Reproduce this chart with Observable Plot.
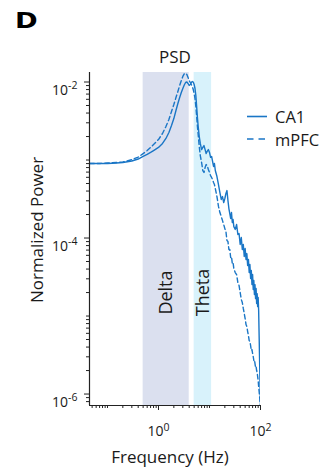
<!DOCTYPE html>
<html><head><meta charset="utf-8">
<script src="https://cdn.jsdelivr.net/npm/d3@7"></script>
<script src="https://cdn.jsdelivr.net/npm/@observablehq/plot@0.6"></script>
<style>html,body{margin:0;padding:0;background:#fff;} svg{display:block}</style>
</head><body><div id="chart"></div>
<script>
// Frequency (Hz)
const freq = [0.045,0.07,0.1,0.15,0.2,0.3,0.4,0.5,0.6,0.7,0.8,1.0,1.2,1.4,1.6,1.8,2.0,2.2,2.4,2.6,2.8,3.0,3.2,3.4,3.6,3.8,4.0,4.2,4.4,4.6,4.8,5.0,5.2,5.4,5.6,5.8,6.0,6.3,6.6,7.0,7.4,7.8,8.2,8.6,9.0,9.5,10,10.5,11,11.5,12,12.5,13,14,15,16,17,18,19,20,21,22,23,24,25,26,27,28,29,30,32,34,36,38,40,42,44,46,48,50,52,54,56,58,60,62,64,66,68,70,72,74,76,78,80,82,84,86,88,90,92,94,96,98,100];
// Normalized power, CA1 (solid)
const ca1Power = [9.02e-4,9.02e-4,9.02e-4,9.16e-4,9.29e-4,
9.71e-4,1.03e-3,1.11e-3,1.18e-3,1.25e-3,
1.32e-3,1.45e-3,1.63e-3,1.89e-3,2.25e-3,
2.77e-3,3.40e-3,4.31e-3,5.30e-3,6.32e-3,
7.33e-3,8.26e-3,9.16e-3,9.86e-3,1.0e-2,
9.57e-3,9.02e-3,9.29e-3,9.86e-3,1.015e-2,
1.0e-2,9.29e-3,8.26e-3,6.71e-3,4.85e-3,
3.51e-3,2.69e-3,2.00e-3,1.63e-3,1.36e-3,
1.45e-3,1.53e-3,1.36e-3,1.21e-3,1.29e-3,
1.36e-3,1.25e-3,1.08e-3,1.11e-3,9.57e-4,
8.26e-4,9.02e-4,7.33e-4,6.14e-4,4.85e-4,
3.83e-4,3.12e-4,3.40e-4,2.85e-4,3.21e-4,
3.72e-4,4.06e-4,3.03e-4,2.39e-4,2.06e-4,
1.78e-4,2.12e-4,1.58e-4,1.73e-4,1.40e-4,
1.29e-4,1.49e-4,1.109e-4,1.14e-4,8.26e-5,
1.015e-4,7.12e-5,8.26e-5,5.80e-5,7.33e-5,
5.30e-5,6.32e-5,4.44e-5,5.30e-5,3.61e-5,
4.57e-5,3.03e-5,3.83e-5,2.53e-5,3.40e-5,
2.19e-5,2.85e-5,1.89e-5,2.53e-5,1.67e-5,
2.25e-5,1.45e-5,1.94e-5,1.32e-5,1.73e-5,
1.18e-5,5.62e-6,2.69e-6,1.29e-6,7.33e-7];
// Normalized power, mPFC (dashed)
const mpfcPower = [9.02e-4,9.02e-4,9.16e-4,9.29e-4,9.42e-4,
1.01e-3,1.09e-3,1.21e-3,1.32e-3,1.45e-3,
1.58e-3,1.83e-3,2.19e-3,2.69e-3,3.31e-3,
4.19e-3,5.15e-3,6.32e-3,7.56e-3,9.02e-3,
1.045e-2,1.18e-2,1.27e-2,1.30e-2,1.25e-2,
1.14e-2,1.045e-2,9.86e-3,9.29e-3,8.76e-3,
8.01e-3,7.12e-3,6.14e-3,4.85e-3,3.61e-3,
2.69e-3,2.12e-3,1.49e-3,1.14e-3,9.29e-4,
7.33e-4,6.92e-4,8.01e-4,8.75e-4,8.49e-4,
7.55e-4,6.92e-4,6.32e-4,5.97e-4,5.62e-4,
5.15e-4,4.85e-4,4.31e-4,3.40e-4,2.54e-4,
2.12e-4,1.89e-4,1.67e-4,1.49e-4,1.32e-4,
1.21e-4,9.29e-5,9.02e-5,7.12e-5,7.12e-5,
5.62e-5,5.80e-5,4.71e-5,4.85e-5,4.06e-5,
3.61e-5,3.40e-5,2.69e-5,2.46e-5,2.00e-5,
1.63e-5,1.49e-5,1.25e-5,1.08e-5,9.29e-6,
7.78e-6,7.33e-6,6.32e-6,5.62e-6,4.85e-6,
4.71e-6,4.19e-6,3.61e-6,3.72e-6,3.31e-6,
3.03e-6,2.69e-6,2.77e-6,2.46e-6,2.19e-6,
2.25e-6,2.00e-6,1.89e-6,1.67e-6,1.49e-6,
1.25e-6,1.08e-6,9.29e-7,8.01e-7,7.13e-7];

const bandNames = ["Delta","Theta"];
const bandLo = [0.5, 5];
const bandHi = [4, 11];
const bandColors = ["#dbe0ef", "#d8f2fb"];
const seriesNames = ["CA1","mPFC"];

const xDomain = [0.0444, 100];
const yDomain = [7.13e-7, 1.324e-2];
const xMajor = [1, 100];
const xMajorExp = ["0","2"];
const xMinor = [0.05,0.06,0.07,0.08,0.09,0.1,0.2,0.3,0.4,0.5,0.6,0.7,0.8,0.9,2,3,4,5,6,7,8,9,10,20,30,40,50,60,70,80,90];
const yMajor = [1e-2, 1e-4, 1e-6];
const yMajorExp = ["-2","-4","-6"];
const yMinor = [8e-7,9e-7,2e-6,3e-6,4e-6,5e-6,6e-6,7e-6,8e-6,9e-6,1e-5,2e-5,3e-5,4e-5,5e-5,6e-5,7e-5,8e-5,9e-5,2e-4,3e-4,4e-4,5e-4,6e-4,7e-4,8e-4,9e-4,1e-3,2e-3,3e-3,4e-3,5e-3,6e-3,7e-3,8e-3,9e-3];

const blue = "#1a76c6";
const ink = "#222";
const font = "Open Sans";

const ca1 = freq.map((f,i) => ({f, p: ca1Power[i]}));
const mpfc = freq.map((f,i) => ({f, p: mpfcPower[i]}));
const bands = bandNames.map((name,i) => ({name, lo: bandLo[i], hi: bandHi[i], mid: Math.sqrt(bandLo[i]*bandHi[i]), color: bandColors[i]}));

const chart = Plot.plot({
  width: 329, height: 475,
  marginLeft: 89, marginRight: 69, marginTop: 72, marginBottom: 70,
  style: {fontFamily: font, background: "#fff", color: ink, overflow: "visible"},
  x: {type: "log", domain: xDomain, label: null},
  y: {type: "log", domain: yDomain, label: null},
  marks: [
    Plot.rect([bands[0]], {x1: "lo", x2: "hi", y1: () => yDomain[0], y2: () => yDomain[1], fill: bands[0].color}),
    Plot.rect([bands[1]], {x1: "lo", x2: "hi", y1: () => yDomain[0], y2: () => yDomain[1], fill: bands[1].color}),
    Plot.text(bands, {x: "mid", y: () => 2.0e-5, text: "name", rotate: -90, fontSize: 18, fill: "#1a1a1a"}),
    Plot.line(ca1, {x: "f", y: "p", stroke: blue, strokeWidth: 1.4, clip: true}),
    Plot.line(mpfc, {x: "f", y: "p", stroke: blue, strokeWidth: 1.4, strokeDasharray: "4.5,3", clip: true}),
    Plot.ruleX([xDomain[0]], {stroke: ink, strokeWidth: 1.2}),
    Plot.ruleY([yDomain[0]], {stroke: ink, strokeWidth: 1.2}),
    Plot.axisY({ticks: yMinor, tickSize: 3, tickFormat: () => "", label: null, stroke: ink}),
    Plot.axisY({ticks: yMajor, tickSize: 5, tickPadding: 7, fontSize: 14, label: null, stroke: ink,
      tickFormat: d => yMajorExp[yMajor.indexOf(d)]}),
    Plot.axisX({ticks: xMinor, tickSize: 3, tickFormat: () => "", label: null, stroke: ink}),
    Plot.axisX({ticks: xMajor, tickSize: 5, tickPadding: 16, fontSize: 14, label: null, stroke: ink,
      tickFormat: d => xMajorExp[xMajor.indexOf(d)]})
  ]
});

document.getElementById("chart").appendChild(chart);
const svg = d3.select(chart);

// superscript exponents on tick labels
svg.selectAll('g[aria-label="y-axis tick label"] text, g[aria-label="x-axis tick label"] text').each(function() {
  const t = d3.select(this);
  const e = t.text();
  if (!e) return;
  t.text(null).attr("fill", "#1a1a1a");
  t.append("tspan").text("10");
  t.append("tspan").attr("dy", "-0.55em").attr("font-size", "0.75em").text(e);
});
svg.selectAll('g[aria-label="y-axis tick label"] text').each(function() {
  const t = d3.select(this);
  if (t.text()) t.attr("dy", "0.62em");
});

const g = svg.append("g").attr("font-family", font).attr("fill", "#1a1a1a").attr("text-anchor", "start");
g.append("text").attr("transform", "translate(15,28) scale(1.3,1)").attr("font-family", "DejaVu Sans").attr("font-weight", "bold").attr("font-size", 21).attr("fill", "#000").text("D");
g.append("text").attr("x", 175).attr("y", 63).attr("text-anchor", "middle").attr("font-size", 17).text("PSD");
g.append("text").attr("transform", "translate(43,230) rotate(-90)").attr("text-anchor", "middle").attr("font-size", 17).text("Normalized Power");
g.append("text").attr("x", 170).attr("y", 463).attr("text-anchor", "middle").attr("font-size", 17).text("Frequency (Hz)");

// legend
g.append("line").attr("x1", 247).attr("x2", 267).attr("y1", 116.5).attr("y2", 116.5).attr("stroke", blue).attr("stroke-width", 1.6);
g.append("line").attr("x1", 247).attr("x2", 267).attr("y1", 139).attr("y2", 139).attr("stroke", blue).attr("stroke-width", 1.6).attr("stroke-dasharray", "6.5,5");
g.append("text").attr("x", 275).attr("y", 122.5).attr("font-size", 16.5).text(seriesNames[0]);
g.append("text").attr("x", 275).attr("y", 146).attr("font-size", 16.5).text(seriesNames[1]);
</script>
</body></html>
